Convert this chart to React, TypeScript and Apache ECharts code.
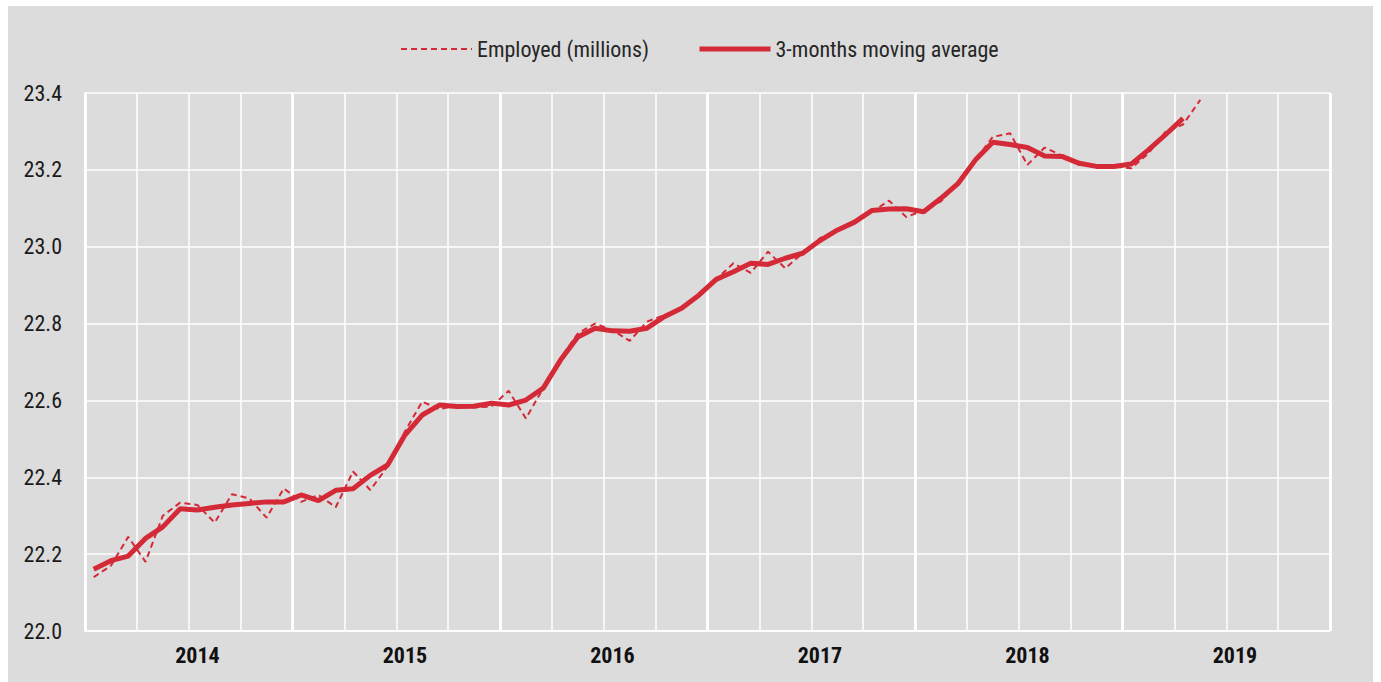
import React, { useEffect, useRef } from "react";
import * as echarts from "echarts";

const years = ["2014", "2015", "2016", "2017", "2018", "2019"];
const monthNames = ["01", "02", "03", "04", "05", "06", "07", "08", "09", "10", "11", "12"];
const categories: string[] = [];
years.forEach((y) => monthNames.forEach((m) => categories.push(y + "-" + m)));

const employed = [
  22.14, 22.17, 22.245, 22.18, 22.3, 22.334, 22.328, 22.282, 22.356, 22.345, 22.295, 22.371,
  22.336, 22.354, 22.322, 22.415, 22.367, 22.428, 22.519, 22.597, 22.577, 22.588, 22.582, 22.584,
  22.625, 22.553, 22.632, 22.71, 22.774, 22.8, 22.783, 22.755, 22.805, 22.822, 22.84, 22.874,
  22.915, 22.957, 22.932, 22.987, 22.944, 22.983, 23.022, 23.043, 23.063, 23.09, 23.12, 23.077,
  23.095, 23.118, 23.165, 23.226, 23.286, 23.295, 23.213, 23.258, 23.237, 23.213, 23.209, 23.209,
  23.204, 23.243, 23.3, 23.318, 23.382,
];

const movingAvg = [
  22.161, 22.183, 22.195, 22.241, 22.271, 22.318, 22.315, 22.322, 22.328, 22.332, 22.336, 22.336,
  22.354, 22.339, 22.366, 22.37, 22.405, 22.432, 22.51, 22.562, 22.588, 22.584, 22.585, 22.593,
  22.588, 22.601, 22.632, 22.705, 22.765, 22.788, 22.781, 22.78, 22.788, 22.818, 22.84, 22.874,
  22.915, 22.935, 22.957, 22.954, 22.97, 22.983, 23.016, 23.043, 23.064, 23.094, 23.098, 23.099,
  23.091, 23.126, 23.165, 23.226, 23.272, 23.266, 23.258, 23.236, 23.235, 23.217, 23.209, 23.209,
  23.215, 23.252, 23.292, 23.334,
];

const seriesNames = ["Employed (millions)", "3-months moving average"];

const RED = "#d42a37";
const FONT = "'Liberation Sans Narrow', 'Arial Narrow', 'Roboto Condensed', 'Liberation Sans', sans-serif";

export default function App() {
  const ref = useRef<HTMLDivElement>(null);
  useEffect(() => {
    if (!ref.current) return;
    const chart = echarts.init(ref.current, undefined, { renderer: "svg" });
    chart.setOption({
      animation: false,
      backgroundColor: "#dcdcdc",
      legend: {
        left: 392,
        top: 32,
        padding: 0,
        itemWidth: 71,
        itemHeight: 14,
        itemGap: 48,
        itemStyle: { opacity: 0 },
        textStyle: { fontFamily: FONT, fontSize: 22, color: "#262626" },
        data: [
          { name: seriesNames[0], lineStyle: { color: RED, width: 2, type: [6, 4] } },
          { name: seriesNames[1], lineStyle: { color: RED, width: 5 } },
        ],
      },
      grid: { left: 77, top: 87, right: 43, bottom: 51, containLabel: false },
      xAxis: [
        {
          type: "category",
          data: categories,
          boundaryGap: true,
          position: "bottom",
          axisLine: { show: true, lineStyle: { color: "#ffffff", width: 1.5 } },
          axisTick: { show: false },
          axisLabel: {
            interval: 0,
            formatter: (v: string, i: number) => (i % 12 === 6 ? v.slice(0, 4) : ""),
            fontFamily: FONT,
            fontWeight: "bold",
            fontSize: 22,
            color: "#111",
            margin: 13,
          },
          splitLine: {
            show: true,
            interval: (i: number) => i % 3 === 0,
            lineStyle: { color: "#ffffff", width: 1.5 },
          },
        },
        {
          type: "category",
          data: years,
          boundaryGap: true,
          position: "bottom",
          axisLine: { show: false },
          axisTick: { show: false },
          axisLabel: { show: false },
          splitLine: { show: true, interval: 0, lineStyle: { color: "#ffffff", width: 2.8 } },
        },
      ],
      yAxis: {
        type: "value",
        min: 22,
        max: 23.4,
        interval: 0.2,
        axisLine: { show: true, lineStyle: { color: "#ffffff", width: 1.5 } },
        axisTick: { show: false },
        axisLabel: {
          formatter: (v: number) => v.toFixed(1),
          fontFamily: FONT,
          fontSize: 22,
          color: "#1a1a1a",
          margin: 23,
        },
        splitLine: { show: true, lineStyle: { color: "#ffffff", width: 1.5 } },
      },
      series: [
        {
          name: seriesNames[0],
          type: "line",
          data: employed,
          symbol: "none",
          lineStyle: { color: RED, width: 2, type: [6, 4] },
          itemStyle: { color: RED },
          z: 3,
        },
        {
          name: seriesNames[1],
          type: "line",
          data: movingAvg,
          symbol: "none",
          lineStyle: { color: RED, width: 5 },
          itemStyle: { color: RED },
          z: 4,
        },
      ],
    });
    return () => chart.dispose();
  }, []);
  return (
    <div
      ref={ref}
      style={{ position: "absolute", left: 8, top: 6, width: 1365, height: 676 }}
    />
  );
}
